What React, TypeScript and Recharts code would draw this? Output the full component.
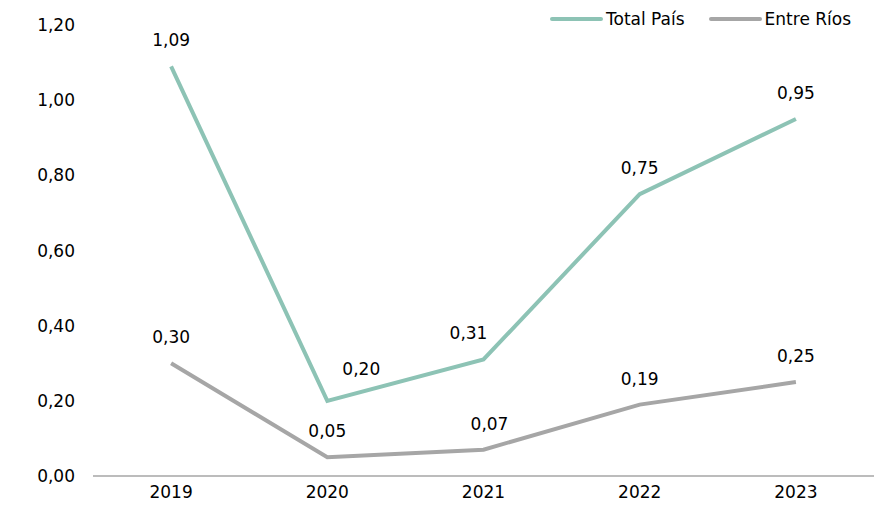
import React from "react";
import { LineChart, Line, XAxis, YAxis, LabelList } from "recharts";

const YEARS = ["2019", "2020", "2021", "2022", "2023"];
const TOTAL_PAIS = [1.09, 0.2, 0.31, 0.75, 0.95];
const ENTRE_RIOS = [0.3, 0.05, 0.07, 0.19, 0.25];
const Y_TICKS = [0, 0.2, 0.4, 0.6, 0.8, 1.0, 1.2];

const TEAL = "#8DC3B5";
const GRAY = "#A6A6A6";
const FONT = "'DejaVu Sans', sans-serif";
const FS = 17;

// nudges for labels that Excel moved off the line
const SHIFT_TOTAL = [
  [0, 0],
  [34, -6],
  [-15, 0],
  [0, 0],
  [0, 0],
];
const SHIFT_ENTRE = [
  [0, 0],
  [0, 0],
  [6, 0],
  [0, 0],
  [0, 0],
];

const fmt = (v: number) => v.toFixed(2).replace(".", ",");

const data = YEARS.map((year, i) => ({
  year,
  total: TOTAL_PAIS[i],
  entre: ENTRE_RIOS[i],
}));

const makeLabel = (shift: number[][]) => (props: any) => {
  const { x, y, value, index } = props;
  const [dx, dy] = shift[index] || [0, 0];
  return (
    <text
      x={x + dx}
      y={y - 20 + dy}
      textAnchor="middle"
      fill="#000"
      fontSize={FS}
      fontFamily={FONT}
    >
      {fmt(Number(value))}
    </text>
  );
};

function LegendBox() {
  const items = [
    { name: "Total País", color: TEAL },
    { name: "Entre Ríos", color: GRAY },
  ];
  return (
    <div
      style={{
        position: "absolute",
        left: 542,
        top: 1,
        display: "flex",
        alignItems: "center",
        gap: 24,
        fontFamily: FONT,
        fontSize: FS,
        color: "#000",
      }}
    >
      {items.map((it) => (
        <div key={it.name} style={{ display: "flex", alignItems: "center" }}>
          <span
            style={{
              display: "inline-block",
              width: 53,
              height: 4,
              borderRadius: 2,
              background: it.color,
              marginRight: 3,
            }}
          />
          <span>{it.name}</span>
        </div>
      ))}
    </div>
  );
}

export default function App() {
  return (
    <div style={{ position: "relative", width: 875, height: 498, fontFamily: FONT }}>
      <LineChart
        width={875}
        height={498}
        data={data}
        margin={{ top: 17, right: 9, bottom: 8, left: 0 }}
      >
        <XAxis
          dataKey="year"
          scale="band"
          height={22}
          axisLine={{ stroke: GRAY, strokeWidth: 1.5 }}
          tickLine={false}
          tickMargin={4}
          tick={{ fill: "#000", fontSize: FS, fontFamily: FONT }}
        />
        <YAxis
          width={85}
          domain={[0, 1.2]}
          ticks={Y_TICKS}
          interval={0}
          axisLine={false}
          tickLine={false}
          tickMargin={12}
          tickFormatter={fmt}
          tick={{ fill: "#000", fontSize: FS, fontFamily: FONT }}
        />
        <Line
          dataKey="total"
          name="Total País"
          stroke={TEAL}
          strokeWidth={4}
          dot={false}
          isAnimationActive={false}
        >
          <LabelList dataKey="total" content={makeLabel(SHIFT_TOTAL)} />
        </Line>
        <Line
          dataKey="entre"
          name="Entre Ríos"
          stroke={GRAY}
          strokeWidth={4}
          dot={false}
          isAnimationActive={false}
        >
          <LabelList dataKey="entre" content={makeLabel(SHIFT_ENTRE)} />
        </Line>
      </LineChart>
      <LegendBox />
    </div>
  );
}
